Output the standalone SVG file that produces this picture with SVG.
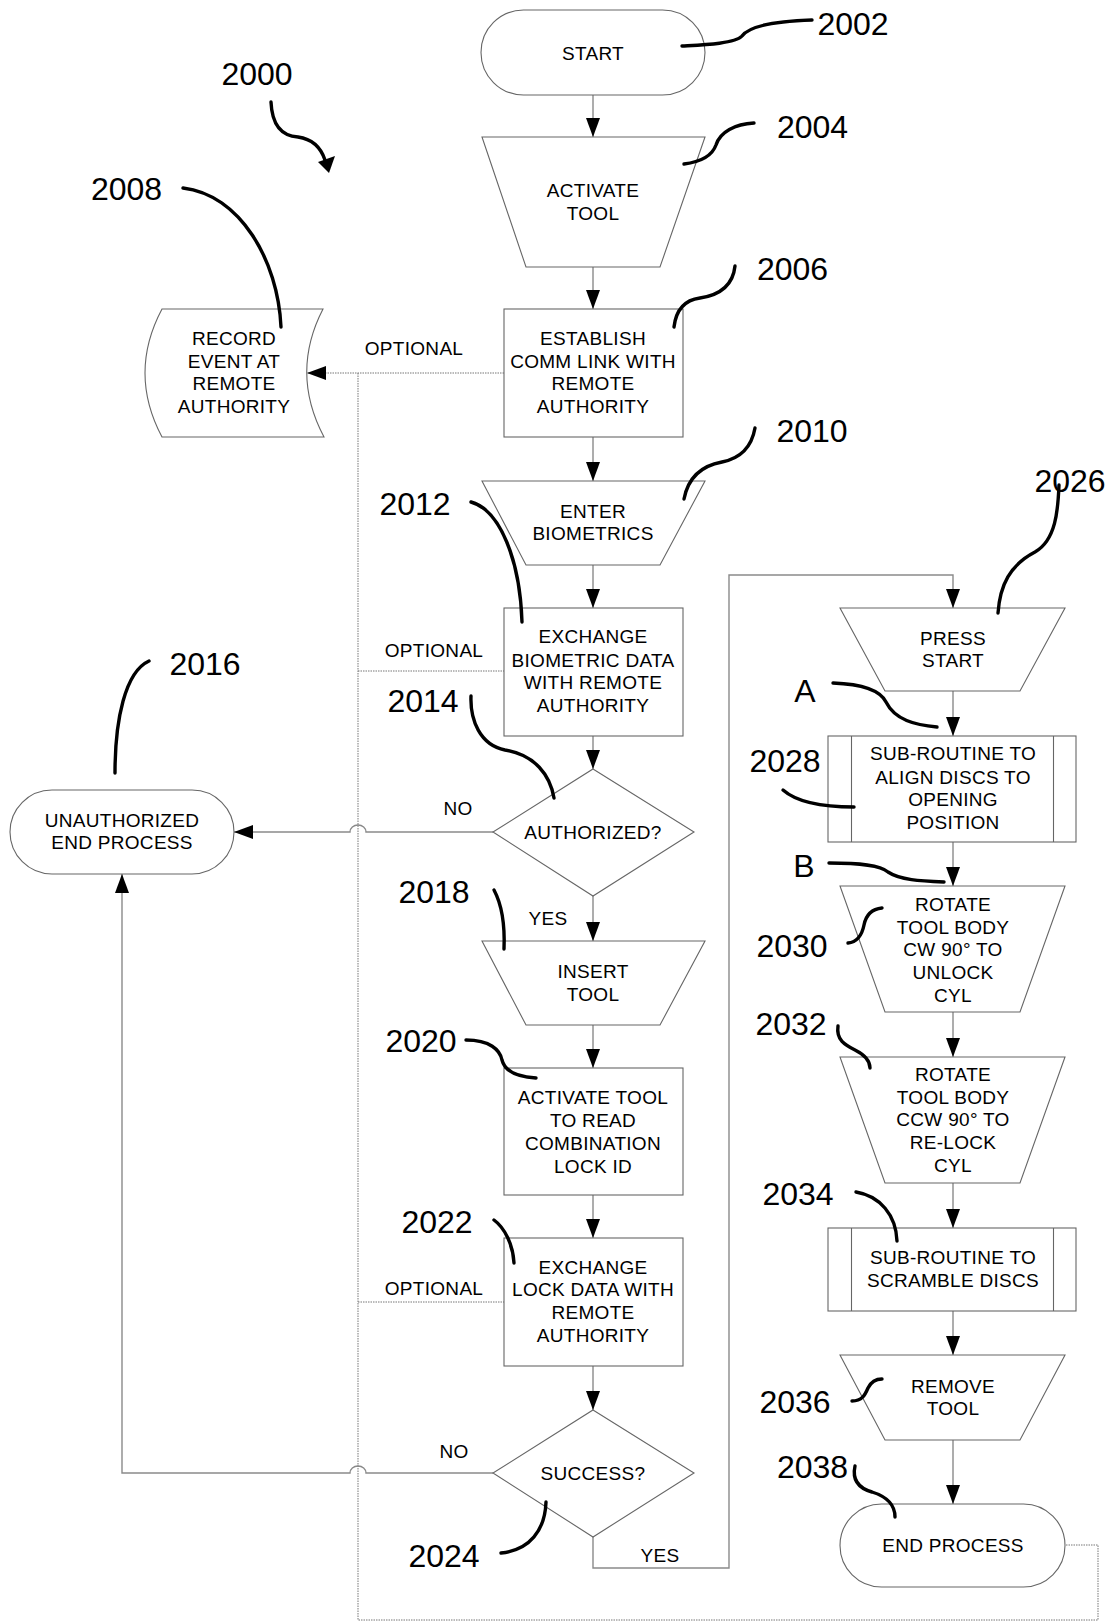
<svg xmlns="http://www.w3.org/2000/svg" width="1110" height="1621" viewBox="0 0 1110 1621">
<style>
.sh{fill:#fff;stroke:#666;stroke-width:1.1}
.cn{fill:none;stroke:#8a8a8a;stroke-width:1.4}
.dt{fill:none;stroke:#777;stroke-width:1;stroke-dasharray:1.5 1}
.ld{fill:none;stroke:#000;stroke-width:3.4;stroke-linecap:round}
.t{font-family:"Liberation Sans",Arial,sans-serif;font-size:19px;fill:#000;text-anchor:middle;letter-spacing:0.3px}
.n{font-family:"Liberation Sans",Arial,sans-serif;font-size:32px;fill:#000;text-anchor:middle}
</style>
<defs>
<marker id="ah" markerUnits="userSpaceOnUse" markerWidth="20" markerHeight="14" refX="19" refY="7" orient="auto">
<path d="M0,0 L19,7 L0,14 Z" fill="#000"/>
</marker>
</defs>
<rect width="1110" height="1621" fill="#fff"/>

<g id="connectors">
<path class="cn" d="M593,95 V137" marker-end="url(#ah)"/>
<path class="cn" d="M593,267 V309" marker-end="url(#ah)"/>
<path class="cn" d="M593,437 V481" marker-end="url(#ah)"/>
<path class="cn" d="M593,565 V608" marker-end="url(#ah)"/>
<path class="cn" d="M593,736 V769" marker-end="url(#ah)"/>
<path class="cn" d="M593,896 V941" marker-end="url(#ah)"/>
<path class="cn" d="M593,1025 V1068" marker-end="url(#ah)"/>
<path class="cn" d="M593,1195 V1238" marker-end="url(#ah)"/>
<path class="cn" d="M593,1366 V1410" marker-end="url(#ah)"/>
<path class="cn" d="M493,832 H366 A8,7 0 0 0 350,832 H234" marker-end="url(#ah)"/>
<path class="cn" d="M493,1473 H366 A8,7 0 0 0 350,1473 H122 V874" marker-end="url(#ah)"/>
<path class="cn" d="M593,1537 V1568 H729 V575 H953 V608" marker-end="url(#ah)"/>
<path class="cn" d="M953,691 V736" marker-end="url(#ah)"/>
<path class="cn" d="M953,842 V886" marker-end="url(#ah)"/>
<path class="cn" d="M953,1012 V1057" marker-end="url(#ah)"/>
<path class="cn" d="M953,1183 V1228" marker-end="url(#ah)"/>
<path class="cn" d="M953,1311 V1355" marker-end="url(#ah)"/>
<path class="cn" d="M953,1440 V1504" marker-end="url(#ah)"/>
<path class="dt" d="M504,373 H307" marker-end="url(#ah)"/>
<path class="dt" d="M358,373 V1620 H1098 V1545 H1065"/>
<path class="dt" d="M358,671 H504"/>
<path class="dt" d="M358,1302 H504"/>
<text class="t" x="414" y="355">OPTIONAL</text>
<text class="t" x="434" y="657">OPTIONAL</text>
<text class="t" x="434" y="1295">OPTIONAL</text>
<text class="t" x="458" y="815">NO</text>
<text class="t" x="548" y="925">YES</text>
<text class="t" x="454" y="1458">NO</text>
<text class="t" x="660" y="1562">YES</text>
</g>

<g id="n2002">
<rect class="sh" x="481" y="10" width="224" height="85" rx="42.5"/>
<text class="t" x="593" y="59.5">START</text>
</g>
<g id="n2004">
<polygon class="sh" points="482,137 705,137 660,267 526,267"/>
<text class="t" x="593" y="197">ACTIVATE</text>
<text class="t" x="593" y="220">TOOL</text>
</g>
<g id="n2006">
<rect class="sh" x="504" y="309" width="179" height="128"/>
<text class="t" x="593" y="345">ESTABLISH</text>
<text class="t" x="593" y="368">COMM LINK WITH</text>
<text class="t" x="593" y="390">REMOTE</text>
<text class="t" x="593" y="413">AUTHORITY</text>
</g>
<g id="n2008">
<path class="sh" d="M162,309 L323,309 Q290,373 324,437 L162,437 Q128,373 162,309 Z"/>
<text class="t" x="234" y="345">RECORD</text>
<text class="t" x="234" y="368">EVENT AT</text>
<text class="t" x="234" y="390">REMOTE</text>
<text class="t" x="234" y="413">AUTHORITY</text>
</g>
<g id="n2010">
<polygon class="sh" points="482,481 705,481 660,565 526,565"/>
<text class="t" x="593" y="518">ENTER</text>
<text class="t" x="593" y="540">BIOMETRICS</text>
</g>
<g id="n2012">
<rect class="sh" x="504" y="608" width="179" height="128"/>
<text class="t" x="593" y="643">EXCHANGE</text>
<text class="t" x="593" y="667">BIOMETRIC DATA</text>
<text class="t" x="593" y="688.5">WITH REMOTE</text>
<text class="t" x="593" y="712">AUTHORITY</text>
</g>
<g id="n2014">
<polygon class="sh" points="593,769 694,832 593,896 493,832"/>
<text class="t" x="593" y="839">AUTHORIZED?</text>
</g>
<g id="n2016">
<rect class="sh" x="10" y="790" width="224" height="84" rx="42"/>
<text class="t" x="122" y="827">UNAUTHORIZED</text>
<text class="t" x="122" y="848.5">END PROCESS</text>
</g>
<g id="n2018">
<polygon class="sh" points="482,941 705,941 660,1025 526,1025"/>
<text class="t" x="593" y="977.5">INSERT</text>
<text class="t" x="593" y="1001">TOOL</text>
</g>
<g id="n2020">
<rect class="sh" x="504" y="1068" width="179" height="127"/>
<text class="t" x="593" y="1103.5">ACTIVATE TOOL</text>
<text class="t" x="593" y="1127">TO READ</text>
<text class="t" x="593" y="1149.5">COMBINATION</text>
<text class="t" x="593" y="1172.5">LOCK ID</text>
</g>
<g id="n2022">
<rect class="sh" x="504" y="1238" width="179" height="128"/>
<text class="t" x="593" y="1273.5">EXCHANGE</text>
<text class="t" x="593" y="1296">LOCK DATA WITH</text>
<text class="t" x="593" y="1319">REMOTE</text>
<text class="t" x="593" y="1342">AUTHORITY</text>
</g>
<g id="n2024">
<polygon class="sh" points="593,1410 694,1473 593,1537 493,1473"/>
<text class="t" x="593" y="1480">SUCCESS?</text>
</g>
<g id="n2026">
<polygon class="sh" points="840,608 1065,608 1020,691 885,691"/>
<text class="t" x="953" y="644.5">PRESS</text>
<text class="t" x="953" y="667">START</text>
</g>
<g id="n2028">
<rect class="sh" x="828" y="736" width="248" height="106"/>
<line class="sh" x1="851.5" y1="736" x2="851.5" y2="842"/>
<line class="sh" x1="1053.5" y1="736" x2="1053.5" y2="842"/>
<text class="t" x="953" y="760">SUB-ROUTINE TO</text>
<text class="t" x="953" y="783.5">ALIGN DISCS TO</text>
<text class="t" x="953" y="806">OPENING</text>
<text class="t" x="953" y="828.5">POSITION</text>
</g>
<g id="n2030">
<polygon class="sh" points="840,886 1065,886 1020,1012 885,1012"/>
<text class="t" x="953" y="911">ROTATE</text>
<text class="t" x="953" y="933.5">TOOL BODY</text>
<text class="t" x="953" y="956">CW 90° TO</text>
<text class="t" x="953" y="978.5">UNLOCK</text>
<text class="t" x="953" y="1002">CYL</text>
</g>
<g id="n2032">
<polygon class="sh" points="840,1057 1065,1057 1020,1183 885,1183"/>
<text class="t" x="953" y="1081">ROTATE</text>
<text class="t" x="953" y="1104">TOOL BODY</text>
<text class="t" x="953" y="1126">CCW 90° TO</text>
<text class="t" x="953" y="1149">RE-LOCK</text>
<text class="t" x="953" y="1172">CYL</text>
</g>
<g id="n2034">
<rect class="sh" x="828" y="1228" width="248" height="83"/>
<line class="sh" x1="851.5" y1="1228" x2="851.5" y2="1311"/>
<line class="sh" x1="1053.5" y1="1228" x2="1053.5" y2="1311"/>
<text class="t" x="953" y="1264">SUB-ROUTINE TO</text>
<text class="t" x="953" y="1287">SCRAMBLE DISCS</text>
</g>
<g id="n2036">
<polygon class="sh" points="840,1355 1065,1355 1020,1440 885,1440"/>
<text class="t" x="953" y="1393">REMOVE</text>
<text class="t" x="953" y="1415">TOOL</text>
</g>
<g id="n2038">
<rect class="sh" x="840" y="1504" width="225" height="83" rx="41.5"/>
<text class="t" x="953" y="1552">END PROCESS</text>
</g>

<g id="labels">
<text class="n" x="257" y="84.5">2000</text>
<path class="ld" d="M271,102 C272,125 282,136 298,137 C312,139 321,148 325,160"/>
<polygon points="318,162 335,156 329,173" fill="#000"/>
<text class="n" x="853" y="35">2002</text>
<path class="ld" d="M682,46 C700,45 735,44 742,36 C750,25 780,21 812,20"/>
<text class="n" x="812.5" y="137.5">2004</text>
<path class="ld" d="M684,164 C700,162 712,156 716,145 C720,132 735,124 754,123"/>
<text class="n" x="792.5" y="280">2006</text>
<path class="ld" d="M674,327 C676,310 685,300 700,298 C720,295 733,285 735,266"/>
<text class="n" x="126.5" y="200">2008</text>
<path class="ld" d="M183,188 C240,195 278,260 281,327"/>
<text class="n" x="812" y="441.5">2010</text>
<path class="ld" d="M755,428 C752,445 742,458 722,462 C700,466 688,478 684,499"/>
<text class="n" x="415" y="515">2012</text>
<path class="ld" d="M471,502 C500,510 520,560 522,622"/>
<text class="n" x="423" y="711.5">2014</text>
<path class="ld" d="M471,696 C470,720 480,745 505,750 C535,755 550,775 554,798"/>
<text class="n" x="205" y="675">2016</text>
<path class="ld" d="M149,661 C125,672 115,720 115,773"/>
<text class="n" x="434" y="902.5">2018</text>
<path class="ld" d="M494,890 C502,905 505,925 504,949"/>
<text class="n" x="421" y="1051.5">2020</text>
<path class="ld" d="M466,1040 C490,1040 500,1050 502,1060 C505,1072 520,1077 536,1078"/>
<text class="n" x="437" y="1233">2022</text>
<path class="ld" d="M494,1220 C505,1228 513,1245 514,1263"/>
<text class="n" x="444" y="1566.5">2024</text>
<path class="ld" d="M501,1553 C530,1550 545,1530 546,1502"/>
<text class="n" x="1070" y="491.5">2026</text>
<path class="ld" d="M1059,485 C1058,510 1056,540 1035,552 C1010,565 1000,585 998,613"/>
<text class="n" x="805" y="701.5">A</text>
<path class="ld" d="M833,683 C860,684 880,690 886,702 C895,720 915,725 937,727"/>
<text class="n" x="785" y="771.5">2028</text>
<path class="ld" d="M783,790 C800,805 830,807 854,807"/>
<text class="n" x="804" y="876.5">B</text>
<path class="ld" d="M829,863 C860,863 880,865 888,872 C900,880 920,881 944,882"/>
<text class="n" x="792" y="956.5">2030</text>
<path class="ld" d="M848,943 C858,942 862,935 864,925 C866,915 872,909 882,908"/>
<text class="n" x="791" y="1035">2032</text>
<path class="ld" d="M838,1026 C836,1040 845,1045 855,1050 C865,1055 870,1060 870,1068"/>
<text class="n" x="798" y="1205">2034</text>
<path class="ld" d="M856,1192 C880,1196 896,1215 897,1241"/>
<text class="n" x="795" y="1413">2036</text>
<path class="ld" d="M852,1401 C862,1401 865,1395 868,1388 C871,1382 875,1379 882,1379"/>
<text class="n" x="812.5" y="1478">2038</text>
<path class="ld" d="M855,1466 C852,1480 858,1488 872,1492 C888,1497 895,1505 895,1517"/>
</g>
</svg>
